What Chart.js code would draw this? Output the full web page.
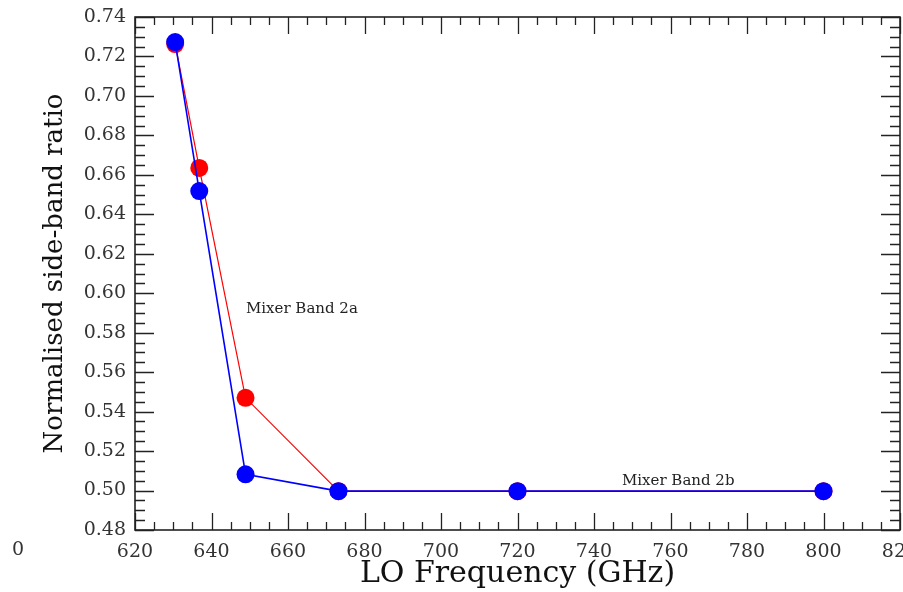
<!DOCTYPE html>
<html>
<head>
<meta charset="utf-8">
<script src="https://cdn.jsdelivr.net/npm/chart.js@4.4.1/dist/chart.umd.min.js"></script>
<style>
	html, body { margin: 0; padding: 0; background: #fff; }
	canvas { display: block; }
</style>
</head>
<body>
<canvas id="c" width="903" height="592"></canvas>
<script>
// LO frequency (GHz) and normalised side-band ratio
const loFreq = [630.5, 636.8, 648.9, 673.2, 720, 800]
const ratioRed = [0.7263, 0.6635, 0.547, 0.4997, 0.4997, 0.4997]
const ratioBlue = [0.7273, 0.6518, 0.5082, 0.4997, 0.4997, 0.4997]

const xRange = [620, 820]
const yRange = [0.48, 0.74]

const notes = [
	{ text: "Mixer Band 2a", x: 649.0, y: 0.592 },
	{ text: "Mixer Band 2b", x: 747.3, y: 0.505 },
]

const serif = "'DejaVu Serif', serif"

const toPoints = (ys) => loFreq.map((x, i) => ({ x: x, y: ys[i] }))

// inward major/minor ticks on all four sides, plus the frame
const boxTicks = {
	id: "boxTicks",
	afterDraw(chart) {
		const { ctx, chartArea: a, scales } = chart
		const xs = scales.x, ys = scales.y
		ctx.save()
		ctx.strokeStyle = "#222"
		ctx.lineWidth = 1.3
		ctx.beginPath()
		for (let v = xRange[0]; v <= xRange[1] + 0.01; v += 5) {
			const len = Math.round(v) % 20 === 0 ? 17 : 8
			const px = Math.round(xs.getPixelForValue(v)) + 0.5
			ctx.moveTo(px, a.bottom); ctx.lineTo(px, a.bottom - len)
			ctx.moveTo(px, a.top); ctx.lineTo(px, a.top + len)
		}
		for (let k = 0; k <= 52; k++) {
			const v = yRange[0] + k * 0.005
			const len = k % 4 === 0 ? 19 : 10
			const py = Math.round(ys.getPixelForValue(v)) + 0.5
			ctx.moveTo(a.left, py); ctx.lineTo(a.left + len, py)
			ctx.moveTo(a.right, py); ctx.lineTo(a.right - len, py)
		}
		ctx.stroke()
		ctx.lineWidth = 1.6
		ctx.strokeRect(a.left, a.top, a.right - a.left, a.bottom - a.top)

		ctx.fillStyle = "#222"
		ctx.font = "15px " + serif
		ctx.textBaseline = "middle"
		notes.forEach((n) => {
			ctx.fillText(n.text, xs.getPixelForValue(n.x), ys.getPixelForValue(n.y))
		})

		// stray label at the far left of the x axis
		ctx.fillStyle = "#333"
		ctx.font = "19px " + serif
		ctx.textAlign = "center"
		ctx.textBaseline = "top"
		ctx.fillText("0", 18, 541)
		ctx.restore()
	},
}

const config = {
	type: "scatter",
	data: {
		datasets: [
			{
				data: toPoints(ratioBlue),
				showLine: true,
				borderColor: "#0000ff",
				backgroundColor: "#0000ff",
				borderWidth: 1.6,
				pointRadius: 9,
				pointHoverRadius: 9,
				pointBorderWidth: 0,
			},
			{
				data: toPoints(ratioRed),
				showLine: true,
				borderColor: "#ff0000",
				backgroundColor: "#ff0000",
				borderWidth: 1.2,
				pointRadius: 9,
				pointHoverRadius: 9,
				pointBorderWidth: 0,
			},
		],
	},
	options: {
		responsive: false,
		animation: false,
		devicePixelRatio: 1,
		layout: { autoPadding: false, padding: { top: 17, right: 3, left: 0, bottom: 0 } },
		plugins: { legend: { display: false }, tooltip: { enabled: false } },
		scales: {
			x: {
				type: "linear",
				min: xRange[0],
				max: xRange[1],
				grid: { display: false, drawTicks: false },
				border: { display: false },
				ticks: {
					stepSize: 20,
					autoSkip: false,
					maxRotation: 0,
					padding: 11,
					color: "#333",
					font: { family: serif, size: 19 },
				},
				title: {
					display: true,
					text: "LO Frequency (GHz)",
					color: "#111",
					font: { family: serif, size: 30 },
					padding: { top: 0, bottom: 0 },
				},
				afterFit(s) {
					s.height = 62
					s.paddingLeft = 0
					s.paddingRight = 0
				},
			},
			y: {
				type: "linear",
				min: yRange[0],
				max: yRange[1],
				grid: { display: false, drawTicks: false },
				border: { display: false },
				ticks: {
					stepSize: 0.02,
					autoSkip: false,
					padding: 9,
					color: "#333",
					font: { family: serif, size: 19 },
					callback: (v) => v.toFixed(2),
				},
				title: {
					display: true,
					text: "Normalised side-band ratio",
					color: "#111",
					font: { family: serif, size: 26 },
					padding: { top: 40, bottom: 0 },
				},
				afterFit(s) {
					s.width = 135
					s.paddingTop = 0
					s.paddingBottom = 0
				},
			},
		},
	},
	plugins: [boxTicks],
}

new Chart(document.getElementById("c"), config)
</script>
</body>
</html>
